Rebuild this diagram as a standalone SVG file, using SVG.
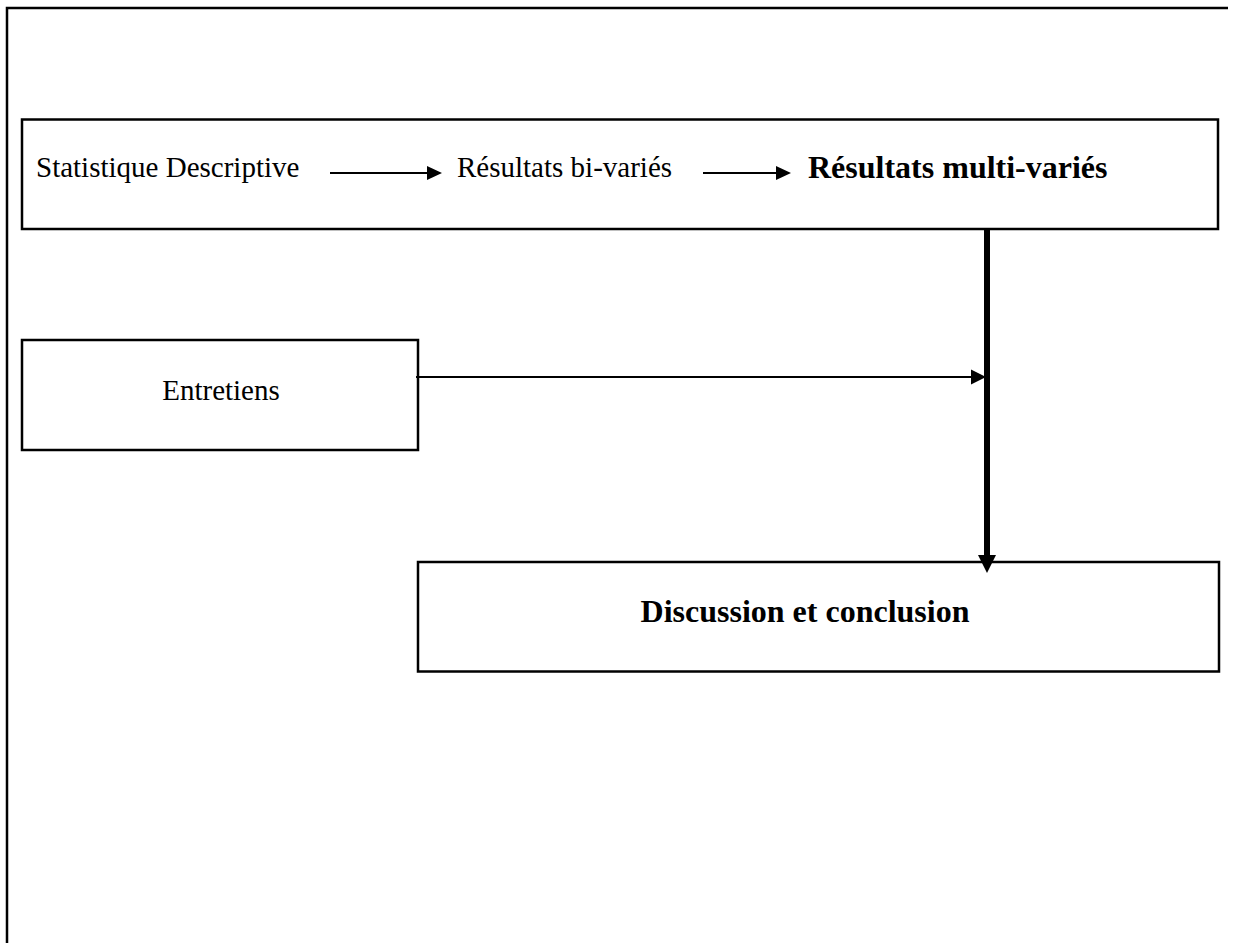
<svg xmlns="http://www.w3.org/2000/svg" width="1234" height="943" viewBox="0 0 1234 943">
<style>
.box{fill:#fff;stroke:#000;stroke-width:2.5}
.t{font-family:"Liberation Serif","Times New Roman",serif;font-size:29px;fill:#000}
.b{font-weight:bold;font-size:32px}
.ln{stroke:#000;stroke-width:2;fill:none}
</style>
<rect width="1234" height="943" fill="#fff"/>
<g id="frame">
<path d="M7,943 V8 H1228" stroke="#000" stroke-width="2.5" fill="none"/>
</g>
<g id="node-top">
<rect class="box" x="22" y="119.5" width="1196" height="109.5"/>
<text class="t" x="36" y="177">Statistique Descriptive</text>
<text class="t" x="457" y="177">Résultats bi-variés</text>
<text class="t b" x="808" y="178">Résultats multi-variés</text>
</g>
<g id="node-entretiens">
<rect class="box" x="22" y="340" width="396" height="110"/>
<text class="t" x="221" y="400" text-anchor="middle">Entretiens</text>
</g>
<g id="node-discussion">
<rect class="box" x="418" y="562" width="801" height="109.5"/>
<text class="t b" x="805" y="622" text-anchor="middle">Discussion et conclusion</text>
</g>
<g id="connectors">
<line class="ln" x1="330" y1="173" x2="428" y2="173"/>
<polygon points="427,166 442,173 427,180"/>
<line class="ln" x1="703" y1="173" x2="777" y2="173"/>
<polygon points="776,166 791,173 776,180"/>
<line class="ln" x1="416" y1="377" x2="972" y2="377"/>
<polygon points="971,369.5 986,377 971,384.5"/>
<line stroke="#000" stroke-width="6" x1="987" y1="229" x2="987" y2="556"/>
<polygon points="978,555 996,555 987,573"/>
</g>
</svg>
